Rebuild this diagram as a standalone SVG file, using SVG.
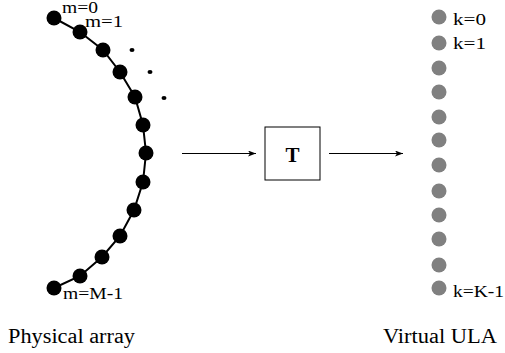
<svg xmlns="http://www.w3.org/2000/svg" width="505" height="353" viewBox="0 0 505 353">
  <defs>
    <style>
      text { font-family: 'Liberation Serif', 'Times New Roman', 'DejaVu Serif', serif; fill: #000; }
      .lbl { font-size: 16px; }
      .cap { font-size: 20px; }
      .el { fill: #000; }
      .vel { fill: #808080; }
      .edge { stroke: #000; stroke-width: 1; fill: none; }
    </style>
    <marker id="arr" viewBox="0 0 8 6" refX="8" refY="3" markerWidth="8" markerHeight="6" orient="auto" markerUnits="userSpaceOnUse">
      <path d="M0,0 L8,3 L0,6 L2,3 Z" fill="#000"/>
    </marker>
  </defs>
  <rect width="505" height="353" fill="#fff"/>

  <!-- physical array: curved line of sensors -->
  <g id="physical-array">
    <polyline points="54,18 80,32 103,50 120,72 135,97 143,125 146,153 143,182 134,210 120,236 102,257 80,276 54,288" fill="none" stroke="#000" stroke-width="2"/>
    <circle class="el" cx="54" cy="18" r="7.5"/>
    <circle class="el" cx="80" cy="32" r="7.5"/>
    <circle class="el" cx="103" cy="50" r="7.5"/>
    <circle class="el" cx="120" cy="72" r="7.5"/>
    <circle class="el" cx="135" cy="97" r="7.5"/>
    <circle class="el" cx="143" cy="125" r="7.5"/>
    <circle class="el" cx="146" cy="153" r="7.5"/>
    <circle class="el" cx="143" cy="182" r="7.5"/>
    <circle class="el" cx="134" cy="210" r="7.5"/>
    <circle class="el" cx="120" cy="236" r="7.5"/>
    <circle class="el" cx="102" cy="257" r="7.5"/>
    <circle class="el" cx="80" cy="276" r="7.5"/>
    <circle class="el" cx="54" cy="288" r="7.5"/>
    <!-- continuation dots -->
    <ellipse class="el" cx="132" cy="50" rx="2.5" ry="2"/>
    <ellipse class="el" cx="150" cy="72" rx="2.5" ry="2"/>
    <ellipse class="el" cx="164" cy="98" rx="2.5" ry="2"/>
    <text class="lbl" x="62" y="13" font-size="15" textLength="36" lengthAdjust="spacingAndGlyphs">m=0</text>
    <text class="lbl" x="85" y="27" textLength="38" lengthAdjust="spacingAndGlyphs">m=1</text>
    <text class="lbl" x="63" y="299" textLength="60" lengthAdjust="spacingAndGlyphs">m=M-1</text>
    <text class="cap" x="8" y="343" textLength="127" lengthAdjust="spacingAndGlyphs">Physical array</text>
  </g>

  <!-- transformation block -->
  <g id="transform">
    <rect x="265" y="127" width="55" height="53" fill="#fff" stroke="#000" stroke-width="1"/>
    <text x="292.5" y="162" text-anchor="middle" font-size="21" font-weight="bold">T</text>
  </g>

  <!-- virtual uniform linear array -->
  <g id="virtual-ula">
    <circle class="vel" cx="439" cy="17" r="7.5"/>
    <circle class="vel" cx="439" cy="43" r="7.5"/>
    <circle class="vel" cx="439" cy="68" r="7.5"/>
    <circle class="vel" cx="439" cy="92" r="7.5"/>
    <circle class="vel" cx="439" cy="117" r="7.5"/>
    <circle class="vel" cx="439" cy="140" r="7.5"/>
    <circle class="vel" cx="439" cy="165" r="7.5"/>
    <circle class="vel" cx="439" cy="191" r="7.5"/>
    <circle class="vel" cx="439" cy="215" r="7.5"/>
    <circle class="vel" cx="439" cy="239" r="7.5"/>
    <circle class="vel" cx="439" cy="265" r="7.5"/>
    <circle class="vel" cx="439" cy="288" r="7.5"/>
    <text class="lbl" x="453" y="25" textLength="33" lengthAdjust="spacingAndGlyphs">k=0</text>
    <text class="lbl" x="453" y="49" textLength="33" lengthAdjust="spacingAndGlyphs">k=1</text>
    <text class="lbl" x="453" y="297" textLength="51" lengthAdjust="spacingAndGlyphs">k=K-1</text>
    <text class="cap" x="383" y="343" textLength="114" lengthAdjust="spacingAndGlyphs">Virtual ULA</text>
  </g>

  <!-- connectors -->
  <g id="connectors">
    <line class="edge" x1="182" y1="153.5" x2="256" y2="153.5" marker-end="url(#arr)"/>
    <line class="edge" x1="329" y1="153.5" x2="403" y2="153.5" marker-end="url(#arr)"/>
  </g>
</svg>
